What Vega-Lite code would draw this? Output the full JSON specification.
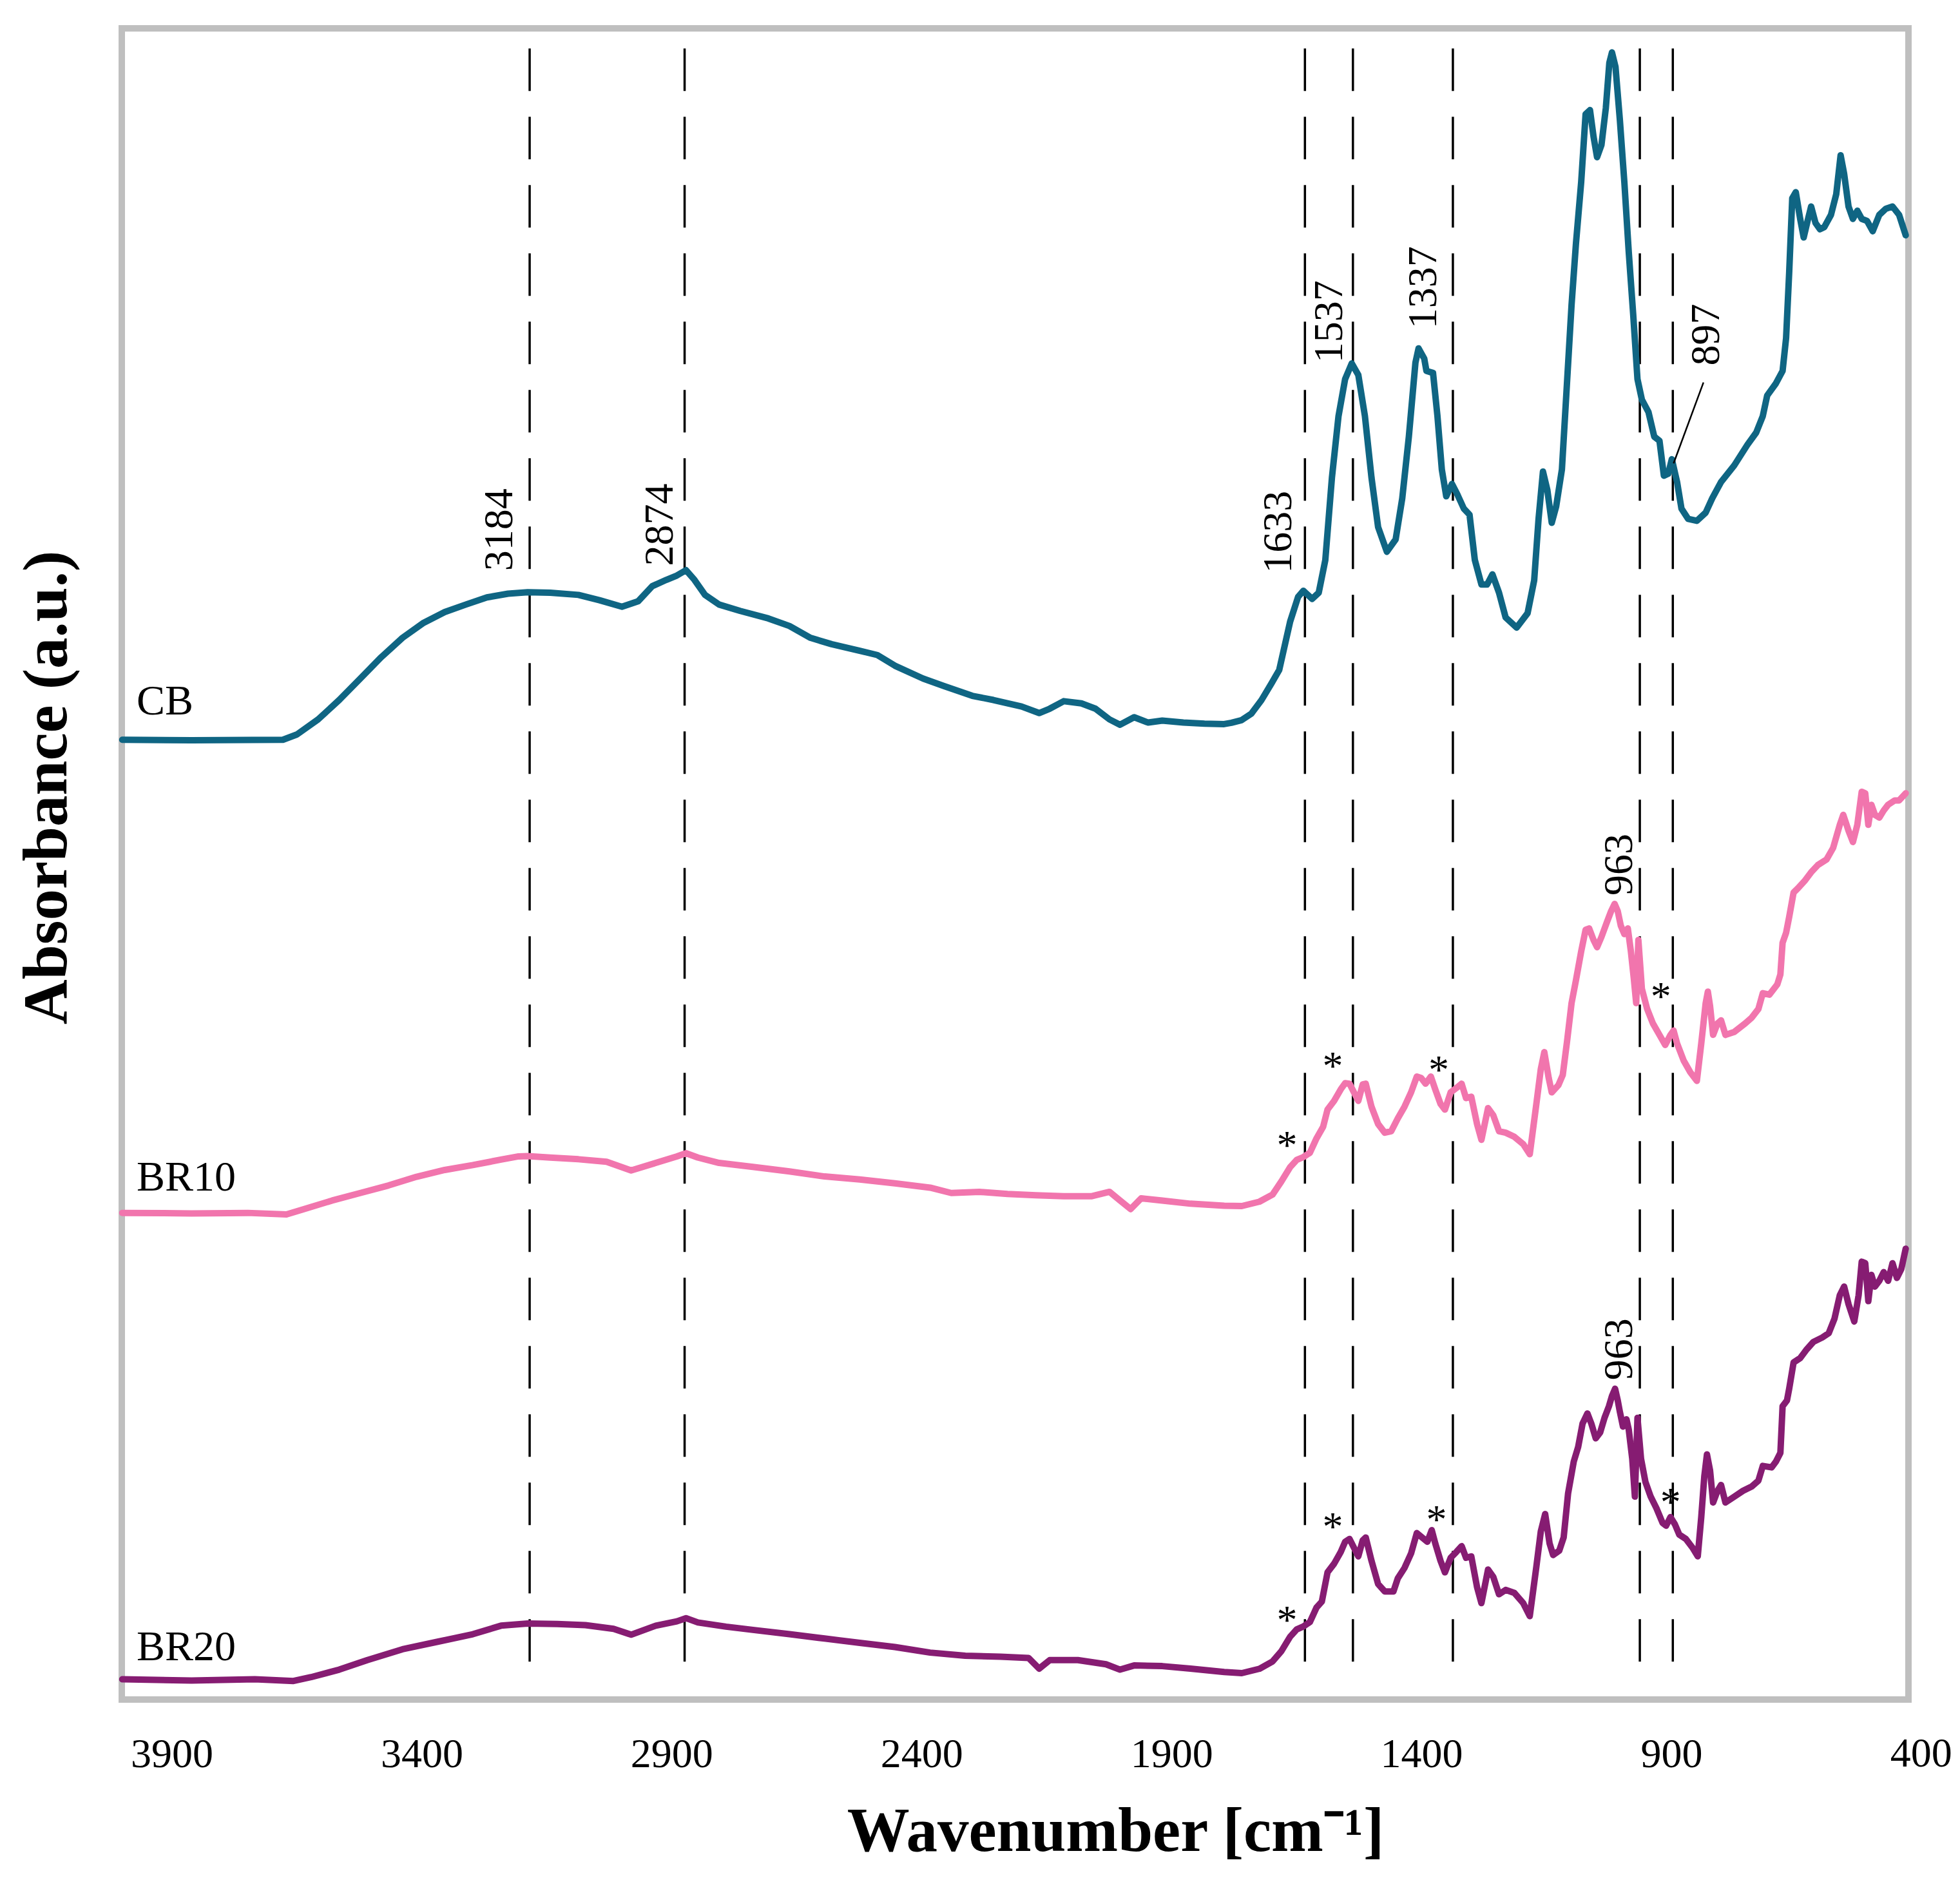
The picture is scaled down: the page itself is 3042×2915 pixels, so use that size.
{
  "$schema": "https://vega.github.io/schema/vega-lite/v6.json",
  "width": 2773,
  "height": 2594,
  "autosize": {"type": "none"},
  "padding": {"left": 189, "top": 44, "right": 80, "bottom": 277},
  "background": "white",
  "config": {
    "view": {"stroke": "#bfbfbf", "strokeWidth": 10},
    "font": "Liberation Serif"
  },
  "datasets": {
    "peaks": [
      {"w": 3184}, {"w": 2874}, {"w": 1633}, {"w": 1537}, {"w": 1337}, {"w": 963}, {"w": 897}
    ],
    "spectra": [
      {"series": "CB", "w": 3999, "a": 5.743},
      {"series": "CB", "w": 3860.6, "a": 5.740},
      {"series": "CB", "w": 3677.6, "a": 5.743},
      {"series": "CB", "w": 3649.5, "a": 5.775},
      {"series": "CB", "w": 3607.2, "a": 5.865},
      {"series": "CB", "w": 3565.0, "a": 5.981},
      {"series": "CB", "w": 3522.8, "a": 6.109},
      {"series": "CB", "w": 3480.6, "a": 6.238},
      {"series": "CB", "w": 3438.4, "a": 6.353},
      {"series": "CB", "w": 3396.1, "a": 6.443},
      {"series": "CB", "w": 3353.9, "a": 6.507},
      {"series": "CB", "w": 3311.7, "a": 6.552},
      {"series": "CB", "w": 3269.5, "a": 6.595},
      {"series": "CB", "w": 3227.2, "a": 6.617},
      {"series": "CB", "w": 3187.9, "a": 6.626},
      {"series": "CB", "w": 3142.8, "a": 6.623},
      {"series": "CB", "w": 3086.5, "a": 6.610},
      {"series": "CB", "w": 3044.3, "a": 6.578},
      {"series": "CB", "w": 2999.3, "a": 6.539},
      {"series": "CB", "w": 2966.9, "a": 6.572},
      {"series": "CB", "w": 2938.8, "a": 6.662},
      {"series": "CB", "w": 2910.6, "a": 6.700},
      {"series": "CB", "w": 2889.5, "a": 6.726},
      {"series": "CB", "w": 2871.2, "a": 6.758},
      {"series": "CB", "w": 2854.3, "a": 6.700},
      {"series": "CB", "w": 2833.2, "a": 6.610},
      {"series": "CB", "w": 2805.0, "a": 6.552},
      {"series": "CB", "w": 2762.8, "a": 6.514},
      {"series": "CB", "w": 2706.5, "a": 6.469},
      {"series": "CB", "w": 2664.3, "a": 6.424},
      {"series": "CB", "w": 2622.1, "a": 6.353},
      {"series": "CB", "w": 2579.9, "a": 6.315},
      {"series": "CB", "w": 2523.6, "a": 6.276},
      {"series": "CB", "w": 2488.4, "a": 6.250},
      {"series": "CB", "w": 2453.2, "a": 6.186},
      {"series": "CB", "w": 2396.9, "a": 6.109},
      {"series": "CB", "w": 2354.7, "a": 6.064},
      {"series": "CB", "w": 2298.4, "a": 6.006},
      {"series": "CB", "w": 2256.2, "a": 5.981},
      {"series": "CB", "w": 2199.9, "a": 5.942},
      {"series": "CB", "w": 2164.7, "a": 5.903},
      {"series": "CB", "w": 2143.6, "a": 5.929},
      {"series": "CB", "w": 2115.5, "a": 5.974},
      {"series": "CB", "w": 2080.3, "a": 5.961},
      {"series": "CB", "w": 2052.1, "a": 5.929},
      {"series": "CB", "w": 2024.0, "a": 5.865},
      {"series": "CB", "w": 2002.9, "a": 5.833},
      {"series": "CB", "w": 1974.7, "a": 5.878},
      {"series": "CB", "w": 1946.6, "a": 5.846},
      {"series": "CB", "w": 1918.4, "a": 5.858},
      {"series": "CB", "w": 1876.2, "a": 5.846},
      {"series": "CB", "w": 1834.0, "a": 5.839},
      {"series": "CB", "w": 1794.6, "a": 5.837},
      {"series": "CB", "w": 1780, "a": 5.845},
      {"series": "CB", "w": 1760, "a": 5.86},
      {"series": "CB", "w": 1740, "a": 5.90},
      {"series": "CB", "w": 1720, "a": 5.98},
      {"series": "CB", "w": 1700, "a": 6.08},
      {"series": "CB", "w": 1684.5, "a": 6.160},
      {"series": "CB", "w": 1662.6, "a": 6.450},
      {"series": "CB", "w": 1646.7, "a": 6.598},
      {"series": "CB", "w": 1636.2, "a": 6.635},
      {"series": "CB", "w": 1618.6, "a": 6.586},
      {"series": "CB", "w": 1605.4, "a": 6.623},
      {"series": "CB", "w": 1592.2, "a": 6.819},
      {"series": "CB", "w": 1579.0, "a": 7.311},
      {"series": "CB", "w": 1565.8, "a": 7.680},
      {"series": "CB", "w": 1552.6, "a": 7.901},
      {"series": "CB", "w": 1539.4, "a": 7.995},
      {"series": "CB", "w": 1526.2, "a": 7.926},
      {"series": "CB", "w": 1513.0, "a": 7.680},
      {"series": "CB", "w": 1499.8, "a": 7.311},
      {"series": "CB", "w": 1486.6, "a": 7.016},
      {"series": "CB", "w": 1469.1, "a": 6.868},
      {"series": "CB", "w": 1451.5, "a": 6.942},
      {"series": "CB", "w": 1438.3, "a": 7.188},
      {"series": "CB", "w": 1425.1, "a": 7.557},
      {"series": "CB", "w": 1411.9, "a": 8.000},
      {"series": "CB", "w": 1405.7, "a": 8.085},
      {"series": "CB", "w": 1394.3, "a": 8.024},
      {"series": "CB", "w": 1389.9, "a": 7.950},
      {"series": "CB", "w": 1376.7, "a": 7.938},
      {"series": "CB", "w": 1367.9, "a": 7.680},
      {"series": "CB", "w": 1359.1, "a": 7.360},
      {"series": "CB", "w": 1350.3, "a": 7.200},
      {"series": "CB", "w": 1338.9, "a": 7.274},
      {"series": "CB", "w": 1328.3, "a": 7.213},
      {"series": "CB", "w": 1315.1, "a": 7.126},
      {"series": "CB", "w": 1303.7, "a": 7.090},
      {"series": "CB", "w": 1293.1, "a": 6.819},
      {"series": "CB", "w": 1279.9, "a": 6.672},
      {"series": "CB", "w": 1268.5, "a": 6.672},
      {"series": "CB", "w": 1257.9, "a": 6.733},
      {"series": "CB", "w": 1244.7, "a": 6.623},
      {"series": "CB", "w": 1231.5, "a": 6.475},
      {"series": "CB", "w": 1209.5, "a": 6.414},
      {"series": "CB", "w": 1187.6, "a": 6.500},
      {"series": "CB", "w": 1174.4, "a": 6.696},
      {"series": "CB", "w": 1165.6, "a": 7.065},
      {"series": "CB", "w": 1156.8, "a": 7.348},
      {"series": "CB", "w": 1148.0, "a": 7.237},
      {"series": "CB", "w": 1139.2, "a": 7.041},
      {"series": "CB", "w": 1130.4, "a": 7.139},
      {"series": "CB", "w": 1118.9, "a": 7.360},
      {"series": "CB", "w": 1110.2, "a": 7.803},
      {"series": "CB", "w": 1099.6, "a": 8.344},
      {"series": "CB", "w": 1090.8, "a": 8.712},
      {"series": "CB", "w": 1080.3, "a": 9.081},
      {"series": "CB", "w": 1071.5, "a": 9.487},
      {"series": "CB", "w": 1062.7, "a": 9.511},
      {"series": "CB", "w": 1055.6, "a": 9.352},
      {"series": "CB", "w": 1048.6, "a": 9.229},
      {"series": "CB", "w": 1039.8, "a": 9.302},
      {"series": "CB", "w": 1031.0, "a": 9.524},
      {"series": "CB", "w": 1024.0, "a": 9.794},
      {"series": "CB", "w": 1018.7, "a": 9.856},
      {"series": "CB", "w": 1011.7, "a": 9.770},
      {"series": "CB", "w": 1002.9, "a": 9.450},
      {"series": "CB", "w": 994.0, "a": 9.081},
      {"series": "CB", "w": 985.2, "a": 8.663},
      {"series": "CB", "w": 976.4, "a": 8.294},
      {"series": "CB", "w": 967.7, "a": 7.901},
      {"series": "CB", "w": 958.9, "a": 7.778},
      {"series": "CB", "w": 945.7, "a": 7.704},
      {"series": "CB", "w": 934.2, "a": 7.557},
      {"series": "CB", "w": 923.7, "a": 7.532},
      {"series": "CB", "w": 914.9, "a": 7.323},
      {"series": "CB", "w": 906.1, "a": 7.335},
      {"series": "CB", "w": 899.0, "a": 7.422},
      {"series": "CB", "w": 888.5, "a": 7.286},
      {"series": "CB", "w": 879.7, "a": 7.126},
      {"series": "CB", "w": 866.5, "a": 7.065},
      {"series": "CB", "w": 848.9, "a": 7.053},
      {"series": "CB", "w": 831.3, "a": 7.102},
      {"series": "CB", "w": 818.1, "a": 7.188},
      {"series": "CB", "w": 800.5, "a": 7.286},
      {"series": "CB", "w": 774.1, "a": 7.385},
      {"series": "CB", "w": 747.8, "a": 7.508},
      {"series": "CB", "w": 730.2, "a": 7.581},
      {"series": "CB", "w": 717.0, "a": 7.680},
      {"series": "CB", "w": 708.2, "a": 7.803},
      {"series": "CB", "w": 690.6, "a": 7.876},
      {"series": "CB", "w": 677.4, "a": 7.950},
      {"series": "CB", "w": 670.4, "a": 8.147},
      {"series": "CB", "w": 664.2, "a": 8.540},
      {"series": "CB", "w": 658.1, "a": 8.983},
      {"series": "CB", "w": 651.0, "a": 9.020},
      {"series": "CB", "w": 642.2, "a": 8.860},
      {"series": "CB", "w": 635.2, "a": 8.749},
      {"series": "CB", "w": 626.4, "a": 8.860},
      {"series": "CB", "w": 620.3, "a": 8.934},
      {"series": "CB", "w": 611.5, "a": 8.835},
      {"series": "CB", "w": 602.6, "a": 8.798},
      {"series": "CB", "w": 593.9, "a": 8.811},
      {"series": "CB", "w": 580.6, "a": 8.884},
      {"series": "CB", "w": 570.1, "a": 9.007},
      {"series": "CB", "w": 561.3, "a": 9.241},
      {"series": "CB", "w": 554.3, "a": 9.130},
      {"series": "CB", "w": 545.5, "a": 8.934},
      {"series": "CB", "w": 536.7, "a": 8.860},
      {"series": "CB", "w": 527.9, "a": 8.909},
      {"series": "CB", "w": 519.1, "a": 8.860},
      {"series": "CB", "w": 508.5, "a": 8.848},
      {"series": "CB", "w": 497.1, "a": 8.786},
      {"series": "CB", "w": 483.9, "a": 8.884},
      {"series": "CB", "w": 470.7, "a": 8.921},
      {"series": "CB", "w": 457.5, "a": 8.934},
      {"series": "CB", "w": 444.3, "a": 8.884},
      {"series": "CB", "w": 431.1, "a": 8.762},

      {"series": "BR10", "w": 3999, "a": 2.912},
      {"series": "BR10", "w": 3860.6, "a": 2.909},
      {"series": "BR10", "w": 3748.0, "a": 2.912},
      {"series": "BR10", "w": 3670.6, "a": 2.903},
      {"series": "BR10", "w": 3635.4, "a": 2.935},
      {"series": "BR10", "w": 3579.1, "a": 2.986},
      {"series": "BR10", "w": 3522.8, "a": 3.031},
      {"series": "BR10", "w": 3466.5, "a": 3.076},
      {"series": "BR10", "w": 3410.2, "a": 3.128},
      {"series": "BR10", "w": 3353.9, "a": 3.169},
      {"series": "BR10", "w": 3297.6, "a": 3.198},
      {"series": "BR10", "w": 3241.3, "a": 3.231},
      {"series": "BR10", "w": 3206.1, "a": 3.250},
      {"series": "BR10", "w": 3187.9, "a": 3.252},
      {"series": "BR10", "w": 3142.8, "a": 3.243},
      {"series": "BR10", "w": 3086.5, "a": 3.233},
      {"series": "BR10", "w": 3030.2, "a": 3.218},
      {"series": "BR10", "w": 2981.0, "a": 3.166},
      {"series": "BR10", "w": 2931.7, "a": 3.211},
      {"series": "BR10", "w": 2889.5, "a": 3.250},
      {"series": "BR10", "w": 2871.2, "a": 3.269},
      {"series": "BR10", "w": 2847.3, "a": 3.243},
      {"series": "BR10", "w": 2805.0, "a": 3.211},
      {"series": "BR10", "w": 2734.7, "a": 3.186},
      {"series": "BR10", "w": 2664.3, "a": 3.160},
      {"series": "BR10", "w": 2594.0, "a": 3.130},
      {"series": "BR10", "w": 2523.6, "a": 3.112},
      {"series": "BR10", "w": 2453.2, "a": 3.089},
      {"series": "BR10", "w": 2382.8, "a": 3.063},
      {"series": "BR10", "w": 2340.6, "a": 3.031},
      {"series": "BR10", "w": 2284.3, "a": 3.038},
      {"series": "BR10", "w": 2228.0, "a": 3.025},
      {"series": "BR10", "w": 2171.7, "a": 3.018},
      {"series": "BR10", "w": 2115.5, "a": 3.012},
      {"series": "BR10", "w": 2059.2, "a": 3.012},
      {"series": "BR10", "w": 2024.0, "a": 3.038},
      {"series": "BR10", "w": 2002.9, "a": 2.986},
      {"series": "BR10", "w": 1981.8, "a": 2.935},
      {"series": "BR10", "w": 1960.6, "a": 2.999},
      {"series": "BR10", "w": 1918.4, "a": 2.986},
      {"series": "BR10", "w": 1862.1, "a": 2.967},
      {"series": "BR10", "w": 1794.5, "a": 2.955},
      {"series": "BR10", "w": 1759.3, "a": 2.953},
      {"series": "BR10", "w": 1724.1, "a": 2.979},
      {"series": "BR10", "w": 1697.7, "a": 3.022},
      {"series": "BR10", "w": 1680.2, "a": 3.100},
      {"series": "BR10", "w": 1662.6, "a": 3.186},
      {"series": "BR10", "w": 1649.4, "a": 3.229},
      {"series": "BR10", "w": 1636.2, "a": 3.246},
      {"series": "BR10", "w": 1623.0, "a": 3.272},
      {"series": "BR10", "w": 1609.8, "a": 3.358},
      {"series": "BR10", "w": 1596.6, "a": 3.427},
      {"series": "BR10", "w": 1587.8, "a": 3.530},
      {"series": "BR10", "w": 1574.6, "a": 3.582},
      {"series": "BR10", "w": 1561.4, "a": 3.651},
      {"series": "BR10", "w": 1552.6, "a": 3.688},
      {"series": "BR10", "w": 1543.8, "a": 3.685},
      {"series": "BR10", "w": 1535.0, "a": 3.633},
      {"series": "BR10", "w": 1526.2, "a": 3.582},
      {"series": "BR10", "w": 1517.4, "a": 3.681},
      {"series": "BR10", "w": 1511.3, "a": 3.685},
      {"series": "BR10", "w": 1499.8, "a": 3.547},
      {"series": "BR10", "w": 1486.6, "a": 3.444},
      {"series": "BR10", "w": 1473.4, "a": 3.392},
      {"series": "BR10", "w": 1460.3, "a": 3.401},
      {"series": "BR10", "w": 1447.1, "a": 3.478},
      {"series": "BR10", "w": 1433.9, "a": 3.547},
      {"series": "BR10", "w": 1420.7, "a": 3.633},
      {"series": "BR10", "w": 1409.2, "a": 3.728},
      {"series": "BR10", "w": 1400.4, "a": 3.719},
      {"series": "BR10", "w": 1391.6, "a": 3.685},
      {"series": "BR10", "w": 1381.1, "a": 3.728},
      {"series": "BR10", "w": 1372.3, "a": 3.651},
      {"series": "BR10", "w": 1361.7, "a": 3.564},
      {"series": "BR10", "w": 1352.9, "a": 3.530},
      {"series": "BR10", "w": 1341.5, "a": 3.633},
      {"series": "BR10", "w": 1330.1, "a": 3.659},
      {"series": "BR10", "w": 1319.5, "a": 3.685},
      {"series": "BR10", "w": 1310.7, "a": 3.599},
      {"series": "BR10", "w": 1300.2, "a": 3.607},
      {"series": "BR10", "w": 1288.7, "a": 3.444},
      {"series": "BR10", "w": 1279.9, "a": 3.349},
      {"series": "BR10", "w": 1266.7, "a": 3.539},
      {"series": "BR10", "w": 1256.2, "a": 3.496},
      {"series": "BR10", "w": 1244.7, "a": 3.401},
      {"series": "BR10", "w": 1231.5, "a": 3.392},
      {"series": "BR10", "w": 1214.0, "a": 3.367},
      {"series": "BR10", "w": 1196.4, "a": 3.324},
      {"series": "BR10", "w": 1183.2, "a": 3.263},
      {"series": "BR10", "w": 1170.0, "a": 3.564},
      {"series": "BR10", "w": 1161.2, "a": 3.771},
      {"series": "BR10", "w": 1154.1, "a": 3.874},
      {"series": "BR10", "w": 1145.3, "a": 3.719},
      {"series": "BR10", "w": 1139.2, "a": 3.633},
      {"series": "BR10", "w": 1126.0, "a": 3.676},
      {"series": "BR10", "w": 1117.2, "a": 3.737},
      {"series": "BR10", "w": 1108.4, "a": 3.943},
      {"series": "BR10", "w": 1099.6, "a": 4.167},
      {"series": "BR10", "w": 1090.8, "a": 4.304},
      {"series": "BR10", "w": 1080.3, "a": 4.477},
      {"series": "BR10", "w": 1071.5, "a": 4.606},
      {"series": "BR10", "w": 1064.4, "a": 4.614},
      {"series": "BR10", "w": 1055.6, "a": 4.545},
      {"series": "BR10", "w": 1048.6, "a": 4.502},
      {"series": "BR10", "w": 1039.8, "a": 4.563},
      {"series": "BR10", "w": 1029.2, "a": 4.649},
      {"series": "BR10", "w": 1020.4, "a": 4.718},
      {"series": "BR10", "w": 1013.4, "a": 4.761},
      {"series": "BR10", "w": 1007.2, "a": 4.718},
      {"series": "BR10", "w": 1001.1, "a": 4.631},
      {"series": "BR10", "w": 994.0, "a": 4.580},
      {"series": "BR10", "w": 987.0, "a": 4.614},
      {"series": "BR10", "w": 980.9, "a": 4.477},
      {"series": "BR10", "w": 974.7, "a": 4.304},
      {"series": "BR10", "w": 970.3, "a": 4.167},
      {"series": "BR10", "w": 965.9, "a": 4.545},
      {"series": "BR10", "w": 958.9, "a": 4.253},
      {"series": "BR10", "w": 948.3, "a": 4.132},
      {"series": "BR10", "w": 936.9, "a": 4.046},
      {"series": "BR10", "w": 923.7, "a": 3.977},
      {"series": "BR10", "w": 912.2, "a": 3.917},
      {"series": "BR10", "w": 901.7, "a": 3.977},
      {"series": "BR10", "w": 895.5, "a": 4.003},
      {"series": "BR10", "w": 888.5, "a": 3.926},
      {"series": "BR10", "w": 875.3, "a": 3.823},
      {"series": "BR10", "w": 862.1, "a": 3.754},
      {"series": "BR10", "w": 848.9, "a": 3.702},
      {"series": "BR10", "w": 840.1, "a": 3.926},
      {"series": "BR10", "w": 831.3, "a": 4.167},
      {"series": "BR10", "w": 826.9, "a": 4.236},
      {"series": "BR10", "w": 822.5, "a": 4.150},
      {"series": "BR10", "w": 816.4, "a": 3.977},
      {"series": "BR10", "w": 807.6, "a": 4.046},
      {"series": "BR10", "w": 800.5, "a": 4.064},
      {"series": "BR10", "w": 791.7, "a": 3.977},
      {"series": "BR10", "w": 774.1, "a": 3.995},
      {"series": "BR10", "w": 752.2, "a": 4.046},
      {"series": "BR10", "w": 739.0, "a": 4.081},
      {"series": "BR10", "w": 725.8, "a": 4.132},
      {"series": "BR10", "w": 717.0, "a": 4.227},
      {"series": "BR10", "w": 703.8, "a": 4.218},
      {"series": "BR10", "w": 688.0, "a": 4.279},
      {"series": "BR10", "w": 681.8, "a": 4.339},
      {"series": "BR10", "w": 677.4, "a": 4.528},
      {"series": "BR10", "w": 670.4, "a": 4.588},
      {"series": "BR10", "w": 664.2, "a": 4.683},
      {"series": "BR10", "w": 655.4, "a": 4.829},
      {"series": "BR10", "w": 646.6, "a": 4.855},
      {"series": "BR10", "w": 633.4, "a": 4.898},
      {"series": "BR10", "w": 620.3, "a": 4.950},
      {"series": "BR10", "w": 607.0, "a": 4.993},
      {"series": "BR10", "w": 589.4, "a": 5.027},
      {"series": "BR10", "w": 576.3, "a": 5.096},
      {"series": "BR10", "w": 563.0, "a": 5.234},
      {"series": "BR10", "w": 556.0, "a": 5.294},
      {"series": "BR10", "w": 545.5, "a": 5.199},
      {"series": "BR10", "w": 536.7, "a": 5.131},
      {"series": "BR10", "w": 527.9, "a": 5.234},
      {"series": "BR10", "w": 519.1, "a": 5.432},
      {"series": "BR10", "w": 512.0, "a": 5.423},
      {"series": "BR10", "w": 505.9, "a": 5.234},
      {"series": "BR10", "w": 499.7, "a": 5.354},
      {"series": "BR10", "w": 492.7, "a": 5.294},
      {"series": "BR10", "w": 483.9, "a": 5.277},
      {"series": "BR10", "w": 475.1, "a": 5.320},
      {"series": "BR10", "w": 466.3, "a": 5.354},
      {"series": "BR10", "w": 453.1, "a": 5.380},
      {"series": "BR10", "w": 444.3, "a": 5.380},
      {"series": "BR10", "w": 431.1, "a": 5.423},

      {"series": "BR20", "w": 3999, "a": 0.121},
      {"series": "BR20", "w": 3860.6, "a": 0.114},
      {"series": "BR20", "w": 3733.9, "a": 0.121},
      {"series": "BR20", "w": 3656.5, "a": 0.111},
      {"series": "BR20", "w": 3621.3, "a": 0.134},
      {"series": "BR20", "w": 3565.0, "a": 0.179},
      {"series": "BR20", "w": 3508.7, "a": 0.236},
      {"series": "BR20", "w": 3438.4, "a": 0.301},
      {"series": "BR20", "w": 3368.0, "a": 0.346},
      {"series": "BR20", "w": 3297.6, "a": 0.391},
      {"series": "BR20", "w": 3241.3, "a": 0.442},
      {"series": "BR20", "w": 3187.9, "a": 0.455},
      {"series": "BR20", "w": 3128.7, "a": 0.452},
      {"series": "BR20", "w": 3072.4, "a": 0.445},
      {"series": "BR20", "w": 3016.1, "a": 0.423},
      {"series": "BR20", "w": 2981.0, "a": 0.388},
      {"series": "BR20", "w": 2931.7, "a": 0.442},
      {"series": "BR20", "w": 2889.5, "a": 0.468},
      {"series": "BR20", "w": 2871.2, "a": 0.487},
      {"series": "BR20", "w": 2847.3, "a": 0.461},
      {"series": "BR20", "w": 2791.0, "a": 0.436},
      {"series": "BR20", "w": 2734.7, "a": 0.416},
      {"series": "BR20", "w": 2664.3, "a": 0.391},
      {"series": "BR20", "w": 2594.0, "a": 0.365},
      {"series": "BR20", "w": 2523.6, "a": 0.339},
      {"series": "BR20", "w": 2453.2, "a": 0.314},
      {"series": "BR20", "w": 2382.8, "a": 0.281},
      {"series": "BR20", "w": 2312.5, "a": 0.262},
      {"series": "BR20", "w": 2242.1, "a": 0.256},
      {"series": "BR20", "w": 2185.8, "a": 0.249},
      {"series": "BR20", "w": 2164.7, "a": 0.185},
      {"series": "BR20", "w": 2143.6, "a": 0.236},
      {"series": "BR20", "w": 2087.3, "a": 0.236},
      {"series": "BR20", "w": 2031.0, "a": 0.211},
      {"series": "BR20", "w": 2002.9, "a": 0.179},
      {"series": "BR20", "w": 1974.7, "a": 0.204},
      {"series": "BR20", "w": 1918.4, "a": 0.200},
      {"series": "BR20", "w": 1862.1, "a": 0.185},
      {"series": "BR20", "w": 1794.5, "a": 0.165},
      {"series": "BR20", "w": 1759.3, "a": 0.158},
      {"series": "BR20", "w": 1724.1, "a": 0.184},
      {"series": "BR20", "w": 1697.7, "a": 0.228},
      {"series": "BR20", "w": 1680.2, "a": 0.289},
      {"series": "BR20", "w": 1662.6, "a": 0.376},
      {"series": "BR20", "w": 1649.4, "a": 0.420},
      {"series": "BR20", "w": 1636.2, "a": 0.437},
      {"series": "BR20", "w": 1623.0, "a": 0.464},
      {"series": "BR20", "w": 1609.8, "a": 0.551},
      {"series": "BR20", "w": 1599.2, "a": 0.586},
      {"series": "BR20", "w": 1587.8, "a": 0.761},
      {"series": "BR20", "w": 1574.6, "a": 0.813},
      {"series": "BR20", "w": 1561.4, "a": 0.883},
      {"series": "BR20", "w": 1552.6, "a": 0.944},
      {"series": "BR20", "w": 1543.8, "a": 0.961},
      {"series": "BR20", "w": 1535.0, "a": 0.909},
      {"series": "BR20", "w": 1526.2, "a": 0.857},
      {"series": "BR20", "w": 1517.4, "a": 0.953},
      {"series": "BR20", "w": 1511.3, "a": 0.970},
      {"series": "BR20", "w": 1499.8, "a": 0.830},
      {"series": "BR20", "w": 1486.6, "a": 0.691},
      {"series": "BR20", "w": 1473.4, "a": 0.647},
      {"series": "BR20", "w": 1455.9, "a": 0.647},
      {"series": "BR20", "w": 1447.1, "a": 0.726},
      {"series": "BR20", "w": 1433.9, "a": 0.787},
      {"series": "BR20", "w": 1420.7, "a": 0.874},
      {"series": "BR20", "w": 1409.2, "a": 0.996},
      {"series": "BR20", "w": 1398.7, "a": 0.970},
      {"series": "BR20", "w": 1388.1, "a": 0.944},
      {"series": "BR20", "w": 1379.3, "a": 1.014},
      {"series": "BR20", "w": 1372.3, "a": 0.935},
      {"series": "BR20", "w": 1361.7, "a": 0.830},
      {"series": "BR20", "w": 1352.9, "a": 0.761},
      {"series": "BR20", "w": 1341.5, "a": 0.848},
      {"series": "BR20", "w": 1330.1, "a": 0.883},
      {"series": "BR20", "w": 1319.5, "a": 0.918},
      {"series": "BR20", "w": 1310.7, "a": 0.848},
      {"series": "BR20", "w": 1300.2, "a": 0.857},
      {"series": "BR20", "w": 1288.7, "a": 0.673},
      {"series": "BR20", "w": 1279.9, "a": 0.577},
      {"series": "BR20", "w": 1266.7, "a": 0.778},
      {"series": "BR20", "w": 1256.2, "a": 0.734},
      {"series": "BR20", "w": 1244.7, "a": 0.630},
      {"series": "BR20", "w": 1231.5, "a": 0.656},
      {"series": "BR20", "w": 1214.0, "a": 0.638},
      {"series": "BR20", "w": 1196.4, "a": 0.577},
      {"series": "BR20", "w": 1183.2, "a": 0.499},
      {"series": "BR20", "w": 1170.0, "a": 0.795},
      {"series": "BR20", "w": 1161.2, "a": 1.005},
      {"series": "BR20", "w": 1152.4, "a": 1.110},
      {"series": "BR20", "w": 1143.6, "a": 0.935},
      {"series": "BR20", "w": 1136.5, "a": 0.865},
      {"series": "BR20", "w": 1124.2, "a": 0.891},
      {"series": "BR20", "w": 1115.4, "a": 0.970},
      {"series": "BR20", "w": 1106.6, "a": 1.232},
      {"series": "BR20", "w": 1095.2, "a": 1.424},
      {"series": "BR20", "w": 1086.4, "a": 1.511},
      {"series": "BR20", "w": 1077.6, "a": 1.651},
      {"series": "BR20", "w": 1067.9, "a": 1.712},
      {"series": "BR20", "w": 1060.0, "a": 1.651},
      {"series": "BR20", "w": 1051.2, "a": 1.563},
      {"series": "BR20", "w": 1042.4, "a": 1.598},
      {"series": "BR20", "w": 1033.6, "a": 1.686},
      {"series": "BR20", "w": 1024.8, "a": 1.755},
      {"series": "BR20", "w": 1018.7, "a": 1.817},
      {"series": "BR20", "w": 1012.5, "a": 1.860},
      {"series": "BR20", "w": 1007.2, "a": 1.790},
      {"series": "BR20", "w": 1002.9, "a": 1.721},
      {"series": "BR20", "w": 996.7, "a": 1.633},
      {"series": "BR20", "w": 989.7, "a": 1.677},
      {"series": "BR20", "w": 985.2, "a": 1.616},
      {"series": "BR20", "w": 978.2, "a": 1.441},
      {"series": "BR20", "w": 972.9, "a": 1.214},
      {"series": "BR20", "w": 967.7, "a": 1.686},
      {"series": "BR20", "w": 960.6, "a": 1.441},
      {"series": "BR20", "w": 951.8, "a": 1.302},
      {"series": "BR20", "w": 941.3, "a": 1.214},
      {"series": "BR20", "w": 929.8, "a": 1.145},
      {"series": "BR20", "w": 917.5, "a": 1.057},
      {"series": "BR20", "w": 910.5, "a": 1.040},
      {"series": "BR20", "w": 901.7, "a": 1.092},
      {"series": "BR20", "w": 892.9, "a": 1.049},
      {"series": "BR20", "w": 884.1, "a": 0.987},
      {"series": "BR20", "w": 870.9, "a": 0.961},
      {"series": "BR20", "w": 857.7, "a": 0.909},
      {"series": "BR20", "w": 847.1, "a": 0.857},
      {"series": "BR20", "w": 840.1, "a": 1.092},
      {"series": "BR20", "w": 834.0, "a": 1.336},
      {"series": "BR20", "w": 828.7, "a": 1.467},
      {"series": "BR20", "w": 822.5, "a": 1.371},
      {"series": "BR20", "w": 816.4, "a": 1.179},
      {"series": "BR20", "w": 807.6, "a": 1.249},
      {"series": "BR20", "w": 800.5, "a": 1.284},
      {"series": "BR20", "w": 791.7, "a": 1.179},
      {"series": "BR20", "w": 774.1, "a": 1.214},
      {"series": "BR20", "w": 756.6, "a": 1.249},
      {"series": "BR20", "w": 739.0, "a": 1.275},
      {"series": "BR20", "w": 725.8, "a": 1.310},
      {"series": "BR20", "w": 717.0, "a": 1.398},
      {"series": "BR20", "w": 699.4, "a": 1.389},
      {"series": "BR20", "w": 690.6, "a": 1.424},
      {"series": "BR20", "w": 681.8, "a": 1.476},
      {"series": "BR20", "w": 677.4, "a": 1.755},
      {"series": "BR20", "w": 668.6, "a": 1.790},
      {"series": "BR20", "w": 664.2, "a": 1.860},
      {"series": "BR20", "w": 655.4, "a": 2.017},
      {"series": "BR20", "w": 642.2, "a": 2.043},
      {"series": "BR20", "w": 629.0, "a": 2.096},
      {"series": "BR20", "w": 615.8, "a": 2.140},
      {"series": "BR20", "w": 598.2, "a": 2.166},
      {"series": "BR20", "w": 585.1, "a": 2.192},
      {"series": "BR20", "w": 573.6, "a": 2.279},
      {"series": "BR20", "w": 563.0, "a": 2.419},
      {"series": "BR20", "w": 554.3, "a": 2.471},
      {"series": "BR20", "w": 545.5, "a": 2.366},
      {"series": "BR20", "w": 534.0, "a": 2.262},
      {"series": "BR20", "w": 525.3, "a": 2.419},
      {"series": "BR20", "w": 519.1, "a": 2.620},
      {"series": "BR20", "w": 512.0, "a": 2.611},
      {"series": "BR20", "w": 505.9, "a": 2.384},
      {"series": "BR20", "w": 499.7, "a": 2.541},
      {"series": "BR20", "w": 492.7, "a": 2.471},
      {"series": "BR20", "w": 483.9, "a": 2.506},
      {"series": "BR20", "w": 475.1, "a": 2.558},
      {"series": "BR20", "w": 466.3, "a": 2.506},
      {"series": "BR20", "w": 457.5, "a": 2.611},
      {"series": "BR20", "w": 448.7, "a": 2.523},
      {"series": "BR20", "w": 439.9, "a": 2.576},
      {"series": "BR20", "w": 431.1, "a": 2.698}
    ],
    "peakLabels": [
      {"w": 3243, "a": 7.0, "label": "3184"},
      {"w": 2922, "a": 7.03, "label": "2874"},
      {"w": 1684.5, "a": 6.986, "label": "1633"},
      {"w": 1583.4, "a": 8.245, "label": "1537"},
      {"w": 1394.3, "a": 8.449, "label": "1337"},
      {"w": 828.7, "a": 8.167, "label": "897"},
      {"w": 1002.9, "a": 4.996, "label": "963"},
      {"w": 1002.9, "a": 2.096, "label": "963"}
    ],
    "sampleLabels": [
      {"w": 3970.3, "a": 5.971, "label": "CB"},
      {"w": 3970.3, "a": 3.121, "label": "BR10"},
      {"w": 3970.3, "a": 0.311, "label": "BR20"}
    ],
    "stars": [
      {"w": 1668.7, "a": 3.349},
      {"w": 1577.2, "a": 3.823},
      {"w": 1365.3, "a": 3.802},
      {"w": 921.0, "a": 4.241},
      {"w": 1668.7, "a": 0.507},
      {"w": 1577.2, "a": 1.066},
      {"w": 1369.7, "a": 1.110},
      {"w": 901.7, "a": 1.214}
    ],
    "leader": [
      {"w1": 835.7, "a1": 7.881, "w2": 895.5, "a2": 7.397}
    ],
    "endTick": [
      {"w": 400, "label": "400"}
    ]
  },
  "layer": [
    {
      "data": {"name": "peaks"},
      "mark": {"type": "rule", "color": "black", "strokeWidth": 3.5, "strokeDash": [66, 40]},
      "encoding": {
        "x": {
          "field": "w",
          "type": "quantitative",
          "scale": {"domain": [4000, 425.6], "nice": false, "zero": false},
          "axis": {
            "values": [3900, 3400, 2900, 2400, 1900, 1400, 900],
            "format": "d",
            "ticks": false,
            "domain": false,
            "grid": false,
            "labelFont": "Liberation Serif",
            "labelFontSize": 64,
            "labelColor": "black",
            "labelBaseline": "alphabetic",
            "labelPadding": 104,
            "labelFlush": false,
            "labelOverlap": false,
            "labelBound": false,
            "title": "Wavenumber [cm⁻¹]",
            "titleFont": "Liberation Serif",
            "titleFontSize": 97,
            "titleFontWeight": "bold",
            "titleColor": "black",
            "titleAnchor": null,
            "titleAlign": "center",
            "titleBaseline": "alphabetic",
            "titleX": 1542,
            "titleY": 234
          }
        },
        "y": {"datum": 9.88, "type": "quantitative"},
        "y2": {"datum": 0.1}
      }
    },
    {
      "data": {"name": "spectra"},
      "mark": {"type": "line", "strokeWidth": 10, "strokeJoin": "round", "strokeCap": "round"},
      "encoding": {
        "x": {"field": "w", "type": "quantitative"},
        "y": {
          "field": "a",
          "type": "quantitative",
          "scale": {"domain": [0, 10], "nice": false, "zero": false},
          "axis": {
            "labels": false,
            "ticks": false,
            "domain": false,
            "grid": false,
            "title": "Absorbance (a.u.)",
            "titleFont": "Liberation Serif",
            "titleFontSize": 97,
            "titleFontWeight": "bold",
            "titleColor": "black",
            "titleAngle": 270,
            "titleAlign": "center",
            "titleBaseline": "alphabetic",
            "titleX": -87,
            "titleY": 1178
          }
        },
        "color": {
          "field": "series",
          "type": "nominal",
          "scale": {"domain": ["CB", "BR10", "BR20"], "range": ["#0f6583", "#f175ad", "#861c72"]},
          "legend": null
        }
      }
    },
    {
      "data": {"name": "leader"},
      "mark": {"type": "rule", "color": "black", "strokeWidth": 2.5},
      "encoding": {
        "x": {"field": "w1", "type": "quantitative"},
        "y": {"field": "a1", "type": "quantitative"},
        "x2": {"field": "w2"},
        "y2": {"field": "a2"}
      }
    },
    {
      "data": {"name": "peakLabels"},
      "mark": {"type": "text", "angle": 270, "align": "center", "baseline": "middle", "font": "Liberation Serif", "fontSize": 64, "color": "black"},
      "encoding": {
        "x": {"field": "w", "type": "quantitative"},
        "y": {"field": "a", "type": "quantitative"},
        "text": {"field": "label"}
      }
    },
    {
      "data": {"name": "sampleLabels"},
      "mark": {"type": "text", "align": "left", "baseline": "middle", "font": "Liberation Serif", "fontSize": 66, "color": "black"},
      "encoding": {
        "x": {"field": "w", "type": "quantitative"},
        "y": {"field": "a", "type": "quantitative"},
        "text": {"field": "label"}
      }
    },
    {
      "data": {"name": "stars"},
      "mark": {"type": "text", "align": "center", "baseline": "middle", "dy": 11, "font": "Liberation Serif", "fontSize": 64, "color": "black"},
      "encoding": {
        "x": {"field": "w", "type": "quantitative"},
        "y": {"field": "a", "type": "quantitative"},
        "text": {"value": "*"}
      }
    },
    {
      "data": {"name": "endTick"},
      "mark": {"type": "text", "align": "center", "baseline": "alphabetic", "dy": 104, "font": "Liberation Serif", "fontSize": 64, "color": "black"},
      "encoding": {
        "x": {"field": "w", "type": "quantitative"},
        "y": {"datum": 0, "type": "quantitative"},
        "text": {"field": "label"}
      }
    }
  ]
}
